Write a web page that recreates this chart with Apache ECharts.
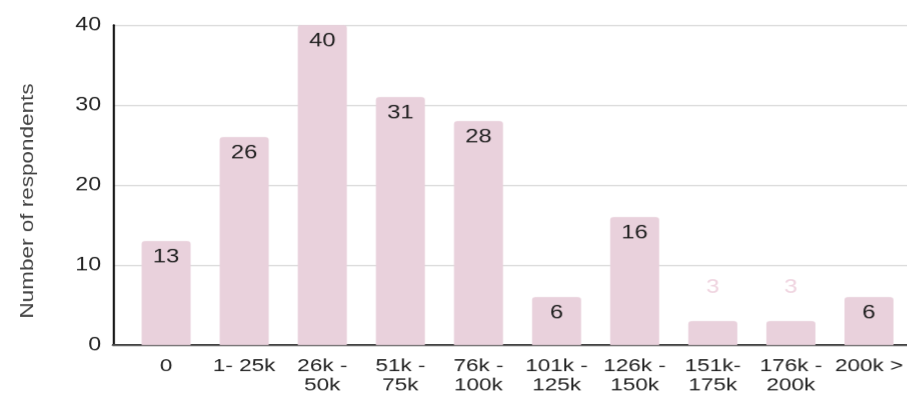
<!DOCTYPE html>
<html><head><meta charset="utf-8">
<script src="https://cdn.jsdelivr.net/npm/echarts@6/dist/echarts.min.js"></script>
<style>
html,body{margin:0;padding:0;background:#fff;overflow:hidden}
#wrap{width:907px;height:396px;overflow:hidden}
#c{width:725.6px;height:396px;transform:scale(1.25,1);transform-origin:0 0}
</style>
</head><body><div id="wrap"><div id="c"></div></div>
<script>
const categories = ['0', '1- 25k', '26k -\n50k', '51k -\n75k', '76k -\n100k', '101k -\n125k', '126k -\n150k', '151k-\n175k', '176k -\n200k', '200k >'];
const respondents = [13, 26, 40, 31, 28, 6, 16, 3, 3, 6];
const yTicks = { min: 0, max: 40, interval: 10 };
const yTitle = 'Number of respondents';

const font = '"Liberation Sans", Arial, sans-serif';
const barColor = '#e9d1dc';
const chart = echarts.init(document.getElementById('c'), null, { renderer: 'canvas', devicePixelRatio: 1.25 });
chart.setOption({
  animation: false,
  grid: [
    { left: 90.4, right: 0, top: 25, bottom: 51 },
    { left: 101.6, right: 0, top: 25, bottom: 51 }
  ],
  graphic: [{
    type: 'text', x: 22.4, y: 201, rotation: Math.PI / 2, scaleX: 1.5, scaleY: 1,
    style: { text: yTitle, fill: '#444', font: '15px ' + font, align: 'center', verticalAlign: 'middle' }
  }],
  xAxis: [
    { gridIndex: 0, type: 'value', min: 0, max: 1, show: true,
      axisLine: { show: true, onZero: false, lineStyle: { color: '#444', width: 2 } },
      axisTick: { show: false }, axisLabel: { show: false }, splitLine: { show: false } },
    { gridIndex: 1, type: 'category', data: categories,
      axisLine: { show: false }, axisTick: { show: false },
      axisLabel: { interval: 0, margin: 12, color: '#222', fontFamily: font, fontSize: 18, lineHeight: 19 } }
  ],
  yAxis: [
    { gridIndex: 0, type: 'value', min: yTicks.min, max: yTicks.max, interval: yTicks.interval,
      axisLine: { show: true, lineStyle: { color: '#000', width: 1.6 } }, axisTick: { show: false },
      axisLabel: { margin: 9.6, color: '#222', fontFamily: font, fontSize: 18.5 },
      splitLine: { lineStyle: { color: '#cccccc', width: 1 } } },
    { gridIndex: 1, type: 'value', min: yTicks.min, max: yTicks.max, interval: yTicks.interval, show: false,
      splitLine: { show: false } }
  ],
  series: [{
    type: 'bar', xAxisIndex: 1, yAxisIndex: 1, barWidth: 39.2,
    itemStyle: { color: barColor, borderRadius: [3, 3, 0, 0] },
    data: respondents.map(v => v <= 3 ? {
      value: v,
      label: { position: 'top', distance: 24, color: '#efd3df' }
    } : v),
    label: { show: true, position: 'insideTop', distance: 7, color: '#222', fontFamily: font, fontSize: 19 }
  }]
});
</script></body></html>
